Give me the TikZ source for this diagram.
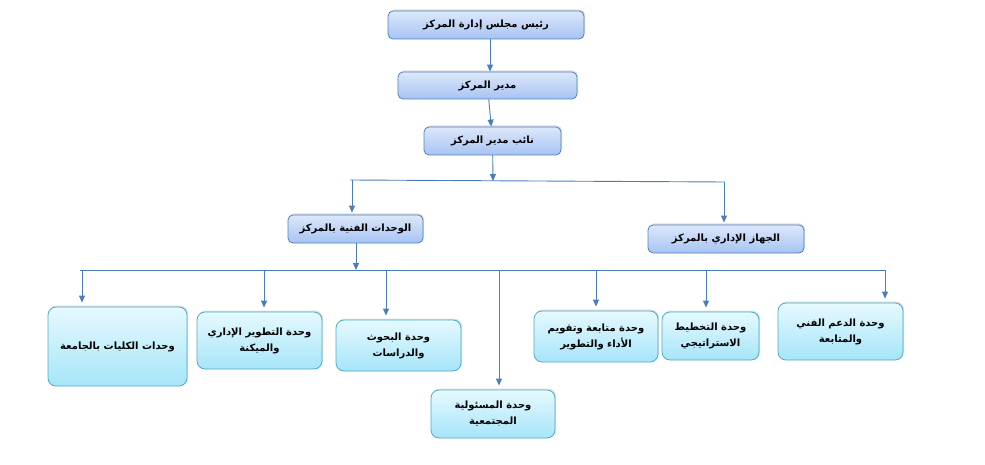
\documentclass[tikz,border=0pt]{standalone}
\usepackage{fontspec}
\newfontfamily\arabicfont[Script=Arabic]{DejaVu Sans}
\TeXXeTstate=1
\usetikzlibrary{arrows.meta}
\usetikzlibrary{shadows}
\definecolor{linkblue}{HTML}{4A7EBB}
\definecolor{headtop}{HTML}{DDE8FB}
\definecolor{headbot}{HTML}{A7C3F3}
\definecolor{headline}{HTML}{4F81BD}
\definecolor{unittop}{HTML}{E6F9FF}
\definecolor{unitbot}{HTML}{A6E5F9}
\definecolor{unitline}{HTML}{4BACC6}
\tikzset{boxbase/.style = {rounded corners = 5, inner sep = 2, align = center,
    font = \arabicfont\bfseries\fontsize{10}{16}\selectfont, line width = 0.8,
    drop shadow = {shadow xshift = 1, shadow yshift = -1.5, opacity = 0.25}}}
\tikzset{headbox/.style = {boxbase, draw = headline, top color = headtop, bottom color = headbot}}
\tikzset{unitbox/.style = {boxbase, rounded corners = 8, draw = unitline, top color = unittop, bottom color = unitbot}}
\tikzset{link/.style = {draw = linkblue, line width = 0.9, -{Triangle[length = 7, width = 6]}}}
\tikzset{bus/.style = {draw = linkblue, line width = 0.9}}
\newcommand{\rl}[1]{\beginR #1\endR}

\begin{document}
\begin{tikzpicture}[x=1pt, y=-1pt]
    \useasboundingbox (0, 0) rectangle (985, 465);

    \node [headbox, minimum width = 196, minimum height = 28] (chair) at (486, 25) {\rl{رئيس مجلس إدارة المركز}};
    \node [headbox, minimum width = 179, minimum height = 27] (director) at (487.5, 85.5) {\rl{مدير المركز}};
    \node [headbox, minimum width = 137, minimum height = 28] (deputy) at (492.5, 141) {\rl{نائب مدير المركز}};
    \node [headbox, minimum width = 135, minimum height = 28] (tech) at (355.5, 229) {\rl{الوحدات الفنية بالمركز}};
    \node [headbox, minimum width = 156, minimum height = 28] (admin) at (726, 239) {\rl{الجهاز الإداري بالمركز}};

    \node [unitbox, minimum width = 139, minimum height = 79] (colleges) at (117.5, 346.5) {\rl{وحدات الكليات بالجامعة}};
    \node [unitbox, minimum width = 125, minimum height = 57] (devel) at (259.5, 340.5) {\rl{وحدة التطوير الإداري}\\\rl{والميكنة}};
    \node [unitbox, minimum width = 125, minimum height = 51] (research) at (398.5, 345.5) {\rl{وحدة البحوث}\\\rl{والدراسات}};
    \node [unitbox, minimum width = 124, minimum height = 48] (social) at (493, 414) {\rl{وحدة المسئولية}\\\rl{المجتمعية}};
    \node [unitbox, minimum width = 124, minimum height = 51] (followup) at (596, 336.5) {\rl{وحدة متابعة وتقويم}\\\rl{الأداء والتطوير}};
    \node [unitbox, minimum width = 97, minimum height = 48] (planning) at (710.5, 336) {\rl{وحدة التخطيط}\\\rl{الاستراتيجي}};
    \node [unitbox, minimum width = 125, minimum height = 57] (support) at (840.5, 331.5) {\rl{وحدة الدعم الفني}\\\rl{والمتابعة}};

    % upper levels
    \draw [link] (chair.south -| 490, 0) -- (director.north -| 490, 0);
    \draw [link] (director) -- (deputy);

    \coordinate (busAl) at (350, 180);
    \coordinate (busAr) at (725, 182);
    \coordinate (busAm) at (493, 181);
    \draw [bus] (busAl) -- (busAr);
    \draw [link] (deputy) -- (busAm);

    \coordinate (tapTech) at (352, 180);
    \coordinate (tapAdmin) at (724, 182);
    \draw [link, shorten > = 2] (tapTech) -- (tapTech |- tech.north);
    \draw [link, shorten > = 2] (tapAdmin) -- (tapAdmin |- admin.north);

    % units
    \coordinate (busBl) at (80, 270);
    \coordinate (busBr) at (886, 270);
    \coordinate (busBm) at (356, 270);
    \draw [bus] (busBl) -- (busBr);
    \draw [link] (tech.south -| busBm) -- (busBm);

    \foreach \x/\n in {82/colleges, 264/devel, 386/research, 499/social, 596/followup, 706/planning, 885/support} {
        \coordinate (tap\n) at (\x, 270);
        \draw [link, shorten > = 4] (tap\n) -- (tap\n |- \n.north);
    }
\end{tikzpicture}
\end{document}
